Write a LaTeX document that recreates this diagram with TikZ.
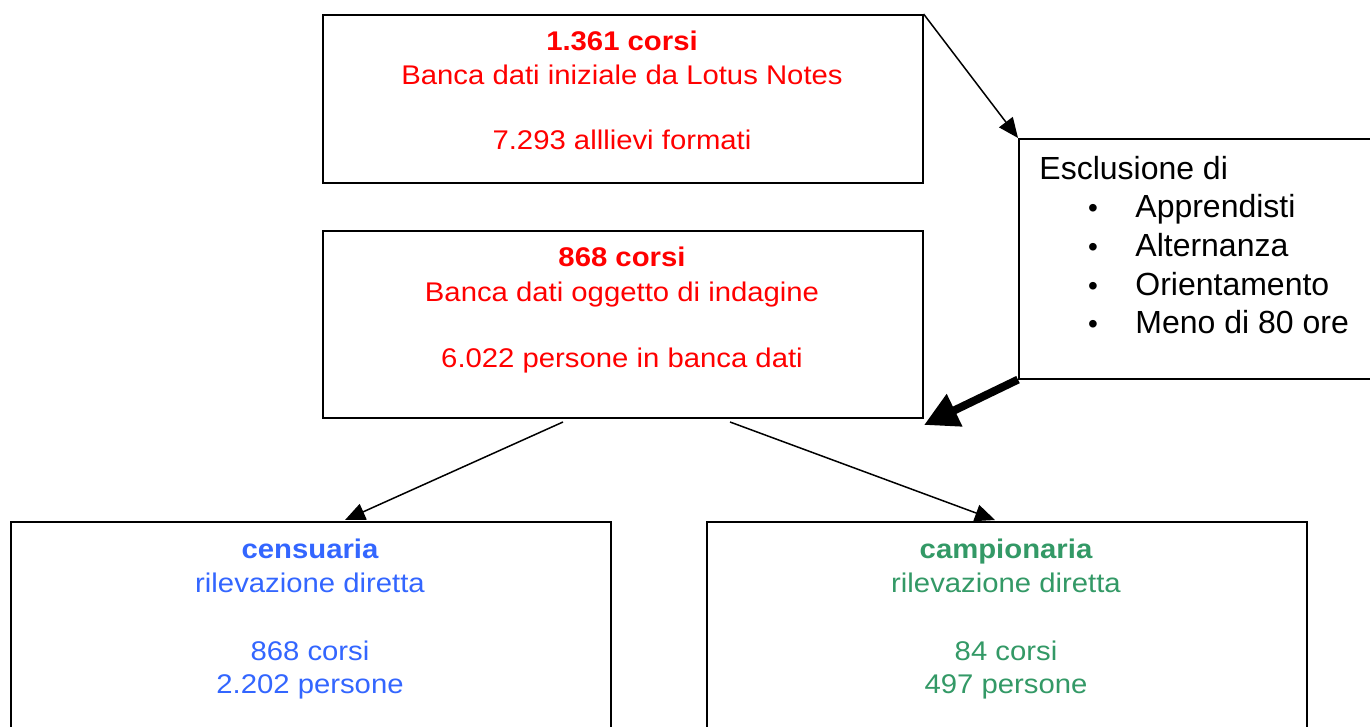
\documentclass[tikz,border=0pt]{standalone}
\usepackage{fontspec}
\setmainfont{Liberation Sans}
\newfontfamily\widesans[FakeStretch=1.085]{Liberation Sans}
\usetikzlibrary{arrows.meta}
\definecolor{cred}{RGB}{255,0,0}
\definecolor{cblue}{RGB}{51,102,255}
\definecolor{cgreen}{RGB}{51,153,102}
\begin{document}
\begin{tikzpicture}[x=0.5pt,y=-0.5pt,
  box/.style={draw, line width=0.8pt, rectangle, inner sep=0pt, anchor=north west},
  txt/.style={anchor=base, inner sep=0pt, font=\widesans\fontsize{13.5pt}{16pt}\selectfont},
  btxt/.style={anchor=base, inner sep=0pt, font=\widesans\fontsize{13.5pt}{16pt}\selectfont\bfseries},
  etxt/.style={anchor=base west, inner sep=0pt, font=\fontsize{16pt}{19pt}\selectfont},
  bul/.style={anchor=base, inner sep=0pt, font=\fontsize{14pt}{19pt}\selectfont},
  thinarrow/.style={line width=0.75pt, -{Triangle[length=10pt,width=8.5pt]}},
  thickarrow/.style={line width=4pt, -{Triangle[length=17pt,width=17pt]}}]
\useasboundingbox (0,0) rectangle (1370,727);
\clip (0,0) rectangle (1370,727);
\fill[white] (0,0) rectangle (1370,727);

% boxes
\node[box, minimum width=300pt, minimum height=84pt] (top) at (322,14) {};
\node[box, minimum width=300pt, minimum height=93.5pt] (mid) at (322,230) {};
\node[box, minimum width=190pt, minimum height=120pt] (ex) at (1018,138) {};
\node[box, minimum width=300pt, minimum height=120pt] (bl) at (10,521) {};
\node[box, minimum width=300pt, minimum height=120pt] (br) at (706,521) {};

% top box text
\node[btxt, text=cred] (t1) at (622,51) {1.361 corsi};
\node[txt, text=cred] (t2) at (622,85) {Banca dati iniziale da Lotus Notes};
\node[txt, text=cred] (t3) at (622,150) {7.293 alllievi formati};

% middle box text
\node[btxt, text=cred] (m1) at (622,267) {868 corsi};
\node[txt, text=cred] (m2) at (622,301) {Banca dati oggetto di indagine};
\node[txt, text=cred] (m3) at (622,367) {6.022 persone in banca dati};

% exclusion box text
\node[etxt] (e0) at (1039,180) {Esclusione di};
\node[bul] (b1) at (1093,218) {•};
\node[bul] (b2) at (1093,256.5) {•};
\node[bul] (b3) at (1093,295) {•};
\node[bul] (b4) at (1093,333) {•};
\node[etxt] (e1) at (1135,218) {Apprendisti};
\node[etxt] (e2) at (1135,256.5) {Alternanza};
\node[etxt] (e3) at (1135,295) {Orientamento};
\node[etxt] (e4) at (1135,333) {Meno di 80 ore};

% bottom left text
\node[btxt, text=cblue] (l1) at (310,558) {censuaria};
\node[txt, text=cblue] (l2) at (310,592) {rilevazione diretta};
\node[txt, text=cblue] (l3) at (310,660) {868 corsi};
\node[txt, text=cblue] (l4) at (310,693) {2.202 persone};

% bottom right text
\node[btxt, text=cgreen] (r1) at (1006,558) {campionaria};
\node[txt, text=cgreen] (r2) at (1006,592) {rilevazione diretta};
\node[txt, text=cgreen] (r3) at (1006,660) {84 corsi};
\node[txt, text=cgreen] (r4) at (1006,693) {497 persone};

% connectors
\coordinate (thickend) at (924,425);
\coordinate (ms1) at (563,422);
\coordinate (ms2) at (730,422);
\coordinate (bltop) at (345,520);
\coordinate (brtop) at (995,520);
\draw[thinarrow] (top.north east) -- (ex.north west);
\draw[thickarrow] (ex.south west) -- (thickend);
\draw[thinarrow] (ms1) -- (bltop);
\draw[thinarrow] (ms2) -- (brtop);
\end{tikzpicture}
\end{document}
